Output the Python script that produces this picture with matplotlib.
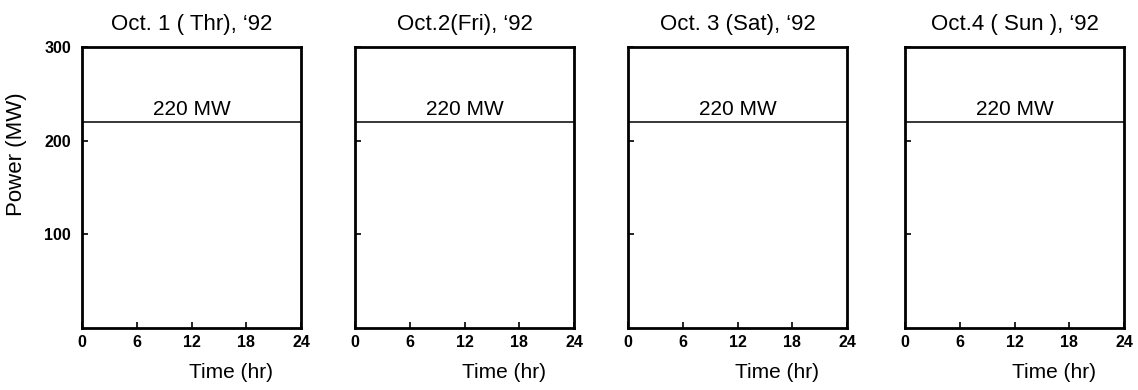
import matplotlib
matplotlib.use("Agg")
import matplotlib.pyplot as plt

# constant power demand over each day
titles = ["Oct. 1 ( Thr), \u201892", "Oct.2(Fri), \u201892",
          "Oct. 3 (Sat), \u201892", "Oct.4 ( Sun ), \u201892"]
hours = [0, 24]
power = [220, 220]
line_label = "220 MW"
xticks = [0, 6, 12, 18, 24]
yticks = [100, 200, 300]

plt.rcParams['font.family'] = ['Liberation Sans', 'DejaVu Sans']

fig = plt.figure(figsize=(11.38, 3.9), dpi=100)
W, H = 1138, 390
lefts = [82, 355, 628, 905]
top, bottom, width = 47, 328, 219

for i, left in enumerate(lefts):
    ax = fig.add_axes([left / W, 1 - bottom / H, width / W, (bottom - top) / H])
    ax.plot(hours, power, color="black", lw=1.1)
    ax.text(12, power[0] + 3, line_label, ha="center", va="bottom", fontsize=15)
    ax.set_xlim(0, 24)
    ax.set_ylim(0, 300)
    ax.set_xticks(xticks)
    ax.set_yticks(yticks)
    ax.tick_params(direction="in", length=4, width=1.2, labelsize=11.5)
    ax.tick_params(axis="x", pad=5)
    ax.tick_params(axis="y", pad=8)
    for lab in ax.get_xticklabels() + ax.get_yticklabels():
        lab.set_fontweight("bold")
    if i > 0:
        ax.set_yticklabels([])
    else:
        ax.set_ylabel("Power (MW)", fontsize=16)
        ax.yaxis.set_label_coords(-0.25, 0.62)
    for s in ax.spines.values():
        s.set_linewidth(2)
    ax.set_title(titles[i], fontsize=16, pad=12)
    ax.set_xlabel("Time (hr)", fontsize=15)
    ax.xaxis.set_label_coords(0.68, -0.125)

fig.savefig("out.png", dpi=100)
